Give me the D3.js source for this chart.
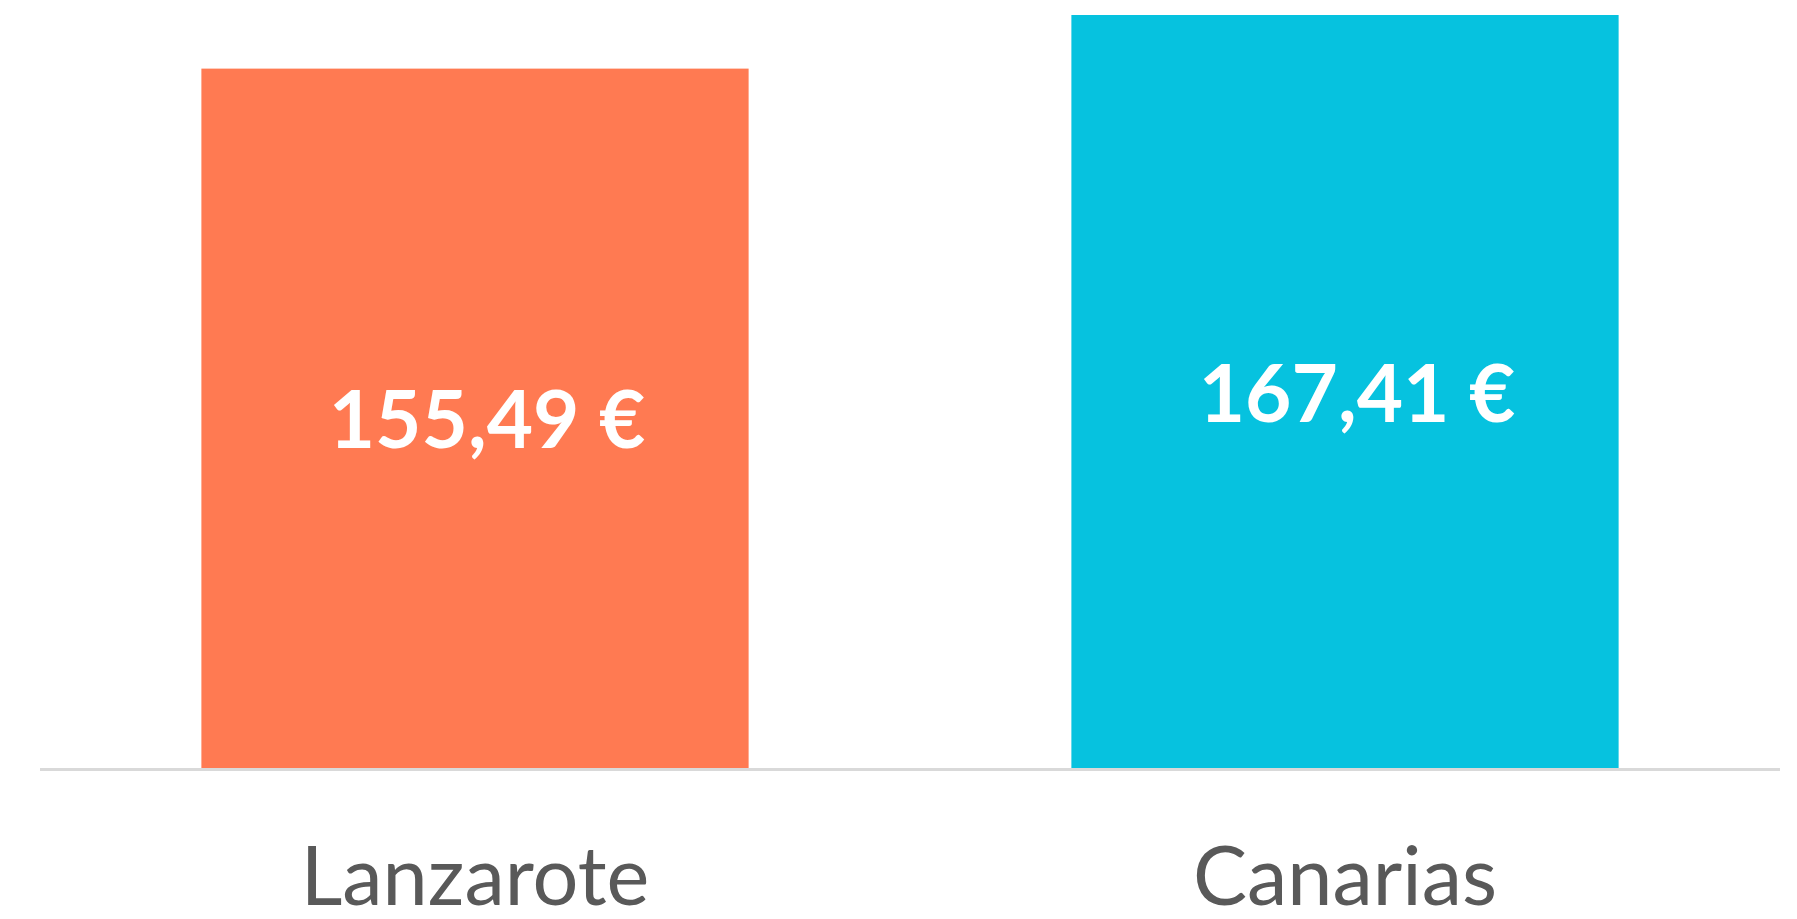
<!DOCTYPE html>
<html>
<head>
<meta charset="utf-8">
<script src="https://cdn.jsdelivr.net/npm/d3@7"></script>
<style>
  html, body { margin: 0; padding: 0; background: #fff; }
  svg { display: block; }
</style>
</head>
<body>
<svg id="chart"></svg>
<script>
// data
const categories = ["Lanzarote", "Canarias"];
const values = [155.49, 167.41];
const barColors = ["#FF7A52", "#06C2DF"];

const width = 1797, height = 919;
const margin = { left: 40, right: 17, top: 15, bottom: 151 };

const svg = d3.select("#chart")
  .attr("width", width)
  .attr("height", height);

const x = d3.scaleBand()
  .domain(categories)
  .range([margin.left, width - margin.right])
  .paddingInner(0.371)
  .paddingOuter(0.1855);

const y = d3.scaleLinear()
  .domain([0, d3.max(values)])
  .range([height - margin.bottom, margin.top]);

const data = categories.map((c, i) => ({ cat: c, val: values[i], color: barColors[i] }));

// bars
svg.selectAll("rect.bar")
  .data(data)
  .join("rect")
    .attr("class", "bar")
    .attr("x", d => x(d.cat))
    .attr("y", d => y(d.val))
    .attr("width", x.bandwidth())
    .attr("height", d => y(0) - y(d.val))
    .attr("fill", d => d.color);

// baseline
svg.append("line")
  .attr("x1", margin.left)
  .attr("x2", width - margin.right)
  .attr("y1", y(0) + 1.5)
  .attr("y2", y(0) + 1.5)
  .attr("stroke", "#d9d9d9")
  .attr("stroke-width", 3);

// value labels, centred in each bar
const fmt = v => v.toFixed(2).replace(".", ",") + " €";
svg.selectAll("text.value")
  .data(data)
  .join("text")
    .attr("class", "value")
    .attr("x", d => x(d.cat) + x.bandwidth() / 2 + 12)
    .attr("y", d => (y(d.val) + y(0)) / 2 + 30)
    .attr("text-anchor", "middle")
    .attr("fill", "#ffffff")
    .style("font-family", "Lato, 'Open Sans', sans-serif")
    .style("font-weight", "bold")
    .style("font-size", "80px")
    .text(d => fmt(d.val));

// category labels
svg.selectAll("text.cat")
  .data(data)
  .join("text")
    .attr("class", "cat")
    .attr("x", d => x(d.cat) + x.bandwidth() / 2)
    .attr("y", 905)
    .attr("text-anchor", "middle")
    .attr("fill", "#595959")
    .style("font-family", "Lato, 'Open Sans', sans-serif")
    .style("font-size", "81px")
    .text(d => d.cat);
</script>
</body>
</html>
